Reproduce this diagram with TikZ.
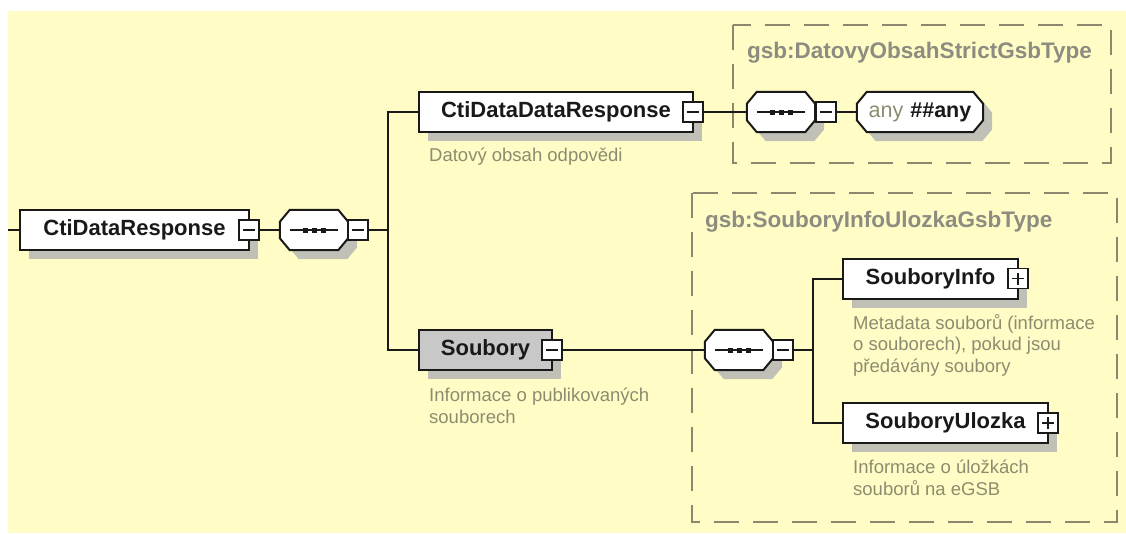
\documentclass[tikz,border=0pt]{standalone}
\usepackage{fontspec}
\setmainfont{Liberation Sans}
\usetikzlibrary{shapes.misc,shadows}
\definecolor{bgyellow}{RGB}{255,253,197}
\definecolor{shadowgray}{RGB}{192,192,182}
\definecolor{descgray}{RGB}{140,140,112}
\definecolor{titlegray}{RGB}{140,140,128}
\definecolor{framegray}{RGB}{140,136,112}
\definecolor{soubgray}{RGB}{200,200,200}
\definecolor{inkblack}{RGB}{25,25,25}
\pgfdeclarelayer{backlayer}
\pgfdeclarelayer{octlayer}
\pgfsetlayers{backlayer,octlayer,main}
\newcommand\octshape[1]{%
  \fill[shadowgray, transform canvas={shift={(9pt,-9pt)}}]
    ([xshift=10pt]#1.north west) -- ([xshift=-10pt]#1.north east) -- ([yshift=-12pt]#1.north east)
    -- ([yshift=12pt]#1.south east) -- ([xshift=-10pt]#1.south east) -- ([xshift=10pt]#1.south west)
    -- ([yshift=12pt]#1.south west) -- ([yshift=-12pt]#1.north west) -- cycle;
  \draw[line width=2pt, draw=inkblack, fill=white]
    ([xshift=10pt]#1.north west) -- ([xshift=-10pt]#1.north east) -- ([yshift=-12pt]#1.north east)
    -- ([yshift=12pt]#1.south east) -- ([xshift=-10pt]#1.south east) -- ([xshift=10pt]#1.south west)
    -- ([yshift=12pt]#1.south west) -- ([yshift=-12pt]#1.north west) -- cycle;}
\newcommand\seqicon[1]{%
  \draw[line width=1.6pt, draw=inkblack] ([xshift=10pt]#1.west) -- ([xshift=-10pt]#1.east);
  \foreach \dx in {-9,0,9}{\fill[inkblack] ([xshift=\dx pt]#1.center) ++(-2.5pt,-2.5pt) rectangle ++(5pt,5pt);}}
\begin{document}
\begin{tikzpicture}[x=1pt,y=-1pt,
  shade9/.style={drop shadow={shadow xshift=9pt,shadow yshift=-9pt,fill=shadowgray,opacity=1}},
  elem/.style={draw=inkblack, line width=2pt, fill=white, minimum height=40pt, inner sep=0pt,
    text=inkblack, font=\fontsize{22}{24}\selectfont\bfseries, shade9},
  sq/.style={draw=inkblack, line width=1.6pt, fill=white, minimum size=20pt, inner sep=0pt},
  minusbox/.style={sq, path picture={\draw[line width=1.5pt]
      ([xshift=4pt]path picture bounding box.west) -- ([xshift=-4pt]path picture bounding box.east);}},
  plusbox/.style={sq, path picture={\draw[line width=1.5pt]
      ([xshift=4pt]path picture bounding box.west) -- ([xshift=-4pt]path picture bounding box.east)
      ([yshift=4pt]path picture bounding box.south) -- ([yshift=-4pt]path picture bounding box.north);}},
  seqbox/.style={rectangle, minimum width=68pt, minimum height=40pt, inner sep=0pt},
  anybox/.style={rectangle, minimum width=126pt, minimum height=40pt, inner sep=0pt,
    font=\fontsize{21.5}{24}\selectfont},
  desc/.style={font=\fontsize{18.5}{21.5}\selectfont, text=descgray, align=left, anchor=west, inner sep=0pt},
  title/.style={font=\fontsize{22.5}{24}\selectfont\bfseries, text=titlegray, anchor=west, inner sep=0pt},
  frame/.style={draw=framegray, line width=1.6pt, dash pattern=on 25pt off 14pt},
  conn/.style={line width=2pt, draw=inkblack}]

\useasboundingbox (0,0) rectangle (1126,533);
\begin{pgfonlayer}{backlayer}
\fill[white] (0,0) rectangle (1126,533);
\fill[bgyellow] (8,11) rectangle (1126,533);
\draw[frame] (733,25) rectangle (1111,163);
\draw[frame] (692,193) rectangle (1117,522);
\end{pgfonlayer}

\node[title] (t1) at (747,53) {gsb:DatovyObsahStrictGsbType};
\node[title] (t2) at (705,222) {gsb:SouboryInfoUlozkaGsbType};

% root
\coordinate (start) at (8,230);
\node[elem, minimum width=229pt] (cdr) at (134.5,230) {CtiDataResponse};
\node[minusbox] (m1) at (249,230) {};
\node[seqbox] (s1) at (314,230) {};
\node[minusbox] (sm1) at (358,230) {};
\coordinate (j1) at (388,230);

% CtiDataDataResponse branch
\node[elem, minimum width=274pt] (cddr) at (556,112) {CtiDataDataResponse};
\node[minusbox] (m2) at (693,112) {};
\node[desc] (d1) at (429,157) {Datový obsah odpovědi};
\node[seqbox] (s3) at (781,112) {};
\node[minusbox] (sm3) at (826,112) {};
\node[anybox] (any) at (920,112) {{\color{descgray}any}\hspace{7pt}{\bfseries\color{inkblack}\#\#any}};

% Soubory branch
\node[elem, fill=soubgray, minimum width=133pt] (soub) at (485.5,350) {Soubory};
\node[minusbox] (m3) at (552,350) {};
\node[desc] (d2) at (429,406) {Informace o publikovaných\\souborech};
\node[seqbox] (s2) at (739,350) {};
\node[minusbox] (sm2) at (783,350) {};
\coordinate (j2) at (813,350);

\node[elem, minimum width=175pt] (sinfo) at (930.5,278.5) {SouboryInfo};
\node[plusbox] (p1) at (1018,278.5) {};
\node[desc] (d3) at (853,345) {Metadata souborů (informace\\o souborech), pokud jsou\\předávány soubory};

\node[elem, minimum width=205pt] (sulo) at (945.5,423) {SouboryUlozka};
\node[plusbox] (p2) at (1048,423) {};
\node[desc] (d4) at (853,478) {Informace o úložkách\\souborů na eGSB};

% octagonal compositor / wildcard shapes
\begin{pgfonlayer}{octlayer}
\octshape{s1}
\octshape{s2}
\octshape{s3}
\octshape{any}
\end{pgfonlayer}
\seqicon{s1}
\seqicon{s2}
\seqicon{s3}

% connectors
\draw[conn] (start) -- (cdr.west);
\draw[conn] (m1.east) -- (s1.west);
\draw[conn] (sm1.east) -- (j1);
\draw[conn] (cddr.west) -| (j1) |- (soub.west);
\draw[conn] (m2.east) -- (s3.west);
\draw[conn] (sm3.east) -- (any.west);
\draw[conn] (m3.east) -- (s2.west);
\draw[conn] (sm2.east) -- (j2);
\draw[conn] (sinfo.west) -| (j2) |- (sulo.west);
\end{tikzpicture}
\end{document}
